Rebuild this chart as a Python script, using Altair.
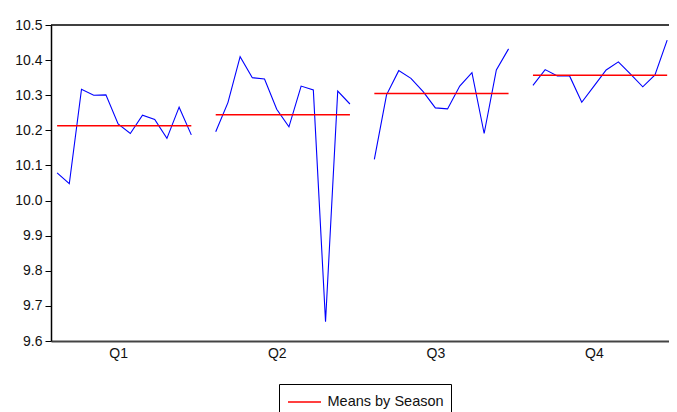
import altair as alt
import pandas as pd

quarters = ["Q1", "Q2", "Q3", "Q4"]
q1 = [10.079, 10.048, 10.317, 10.300, 10.301, 10.218, 10.191, 10.243, 10.231, 10.177, 10.266, 10.187]
q2 = [10.196, 10.279, 10.410, 10.350, 10.346, 10.260, 10.210, 10.326, 10.315, 9.655, 10.312, 10.275]
q3 = [10.117, 10.301, 10.370, 10.348, 10.310, 10.264, 10.261, 10.326, 10.364, 10.191, 10.372, 10.432]
q4 = [10.328, 10.373, 10.355, 10.355, 10.280, 10.326, 10.372, 10.395, 10.360, 10.324, 10.358, 10.457]
y_ticks = [9.6, 9.7, 9.8, 9.9, 10.0, 10.1, 10.2, 10.3, 10.4, 10.5]

rows = []
for qi, (q, vals) in enumerate(zip(quarters, [q1, q2, q3, q4])):
    for j, v in enumerate(vals):
        rows.append({"quarter": q, "slot": qi * 13 + j, "value": v})
df = pd.DataFrame(rows)

xscale = alt.Scale(domain=[-0.5, 50.15], nice=False, zero=False)
yscale = alt.Scale(domain=[9.6, 10.5], nice=False, zero=False)
FONT = "Liberation Sans"

x_axis = alt.Axis(values=[5, 18, 31, 44],
                  labelExpr="'Q' + (floor(datum.value / 13) + 1)",
                  ticks=False, grid=False, domainColor="#444444",
                  domainWidth=2, labelPadding=5, labelFontSize=14,
                  labelFont=FONT, labelColor="#111111",
                  labelOverlap=False, labelFlush=False)
y_axis = alt.Axis(values=y_ticks, tickCount=10, format=".1f", grid=False,
                  domainColor="#000000", domainWidth=1.5,
                  tickColor="#000000", tickSize=6, labelPadding=3,
                  labelFontSize=14, labelFont=FONT, labelColor="#111111",
                  labelOverlap=False, labelFlush=False)

base = alt.Chart(df)

lines = base.mark_line(color="#0000FF", strokeWidth=1.1).encode(
    x=alt.X("slot:Q", scale=xscale, title=None, axis=x_axis),
    y=alt.Y("value:Q", scale=yscale, title=None, axis=y_axis),
    detail="quarter:N",
)

means = base.transform_aggregate(
    mean_v="mean(value)", smin="min(slot)", smax="max(slot)", groupby=["quarter"]
).transform_calculate(
    series="'Means by Season'"
).mark_rule(strokeWidth=1.5).encode(
    x=alt.X("smin:Q", scale=xscale, title=None, axis=x_axis),
    x2="smax:Q",
    y=alt.Y("mean_v:Q", scale=yscale, title=None, axis=y_axis),
    color=alt.Color("series:N",
                    scale=alt.Scale(domain=["Means by Season"], range=["#FF0000"]),
                    legend=alt.Legend(title=None, orient="none", legendX=228, legendY=359,
                                      strokeColor="#000000", padding=7,
                                      symbolType="M-1.65,0H1.65", symbolSize=400,
                                      symbolOffset=7.5,
                                      symbolStrokeColor="#FF0000",
                                      symbolStrokeWidth=1.5, labelFontSize=14.5,
                                      labelFont=FONT, labelColor="#111111",
                                      labelOffset=12)),
)

top_border = alt.Chart(pd.DataFrame({"a": [0]})).mark_rule(
    color="#000000", strokeWidth=1.5
).encode(x=alt.value(0), x2=alt.value(618), y=alt.value(0))

chart = alt.layer(lines, means, top_border).properties(
    width=618, height=316,
    autosize=alt.AutoSizeParams(type="none"),
    padding={"left": 43, "top": 17, "right": 0, "bottom": 71},
    background="#ffffff",
).configure_view(stroke=None, strokeWidth=0)

chart.save("out.html", embed_options={"renderer": "svg", "actions": False})
